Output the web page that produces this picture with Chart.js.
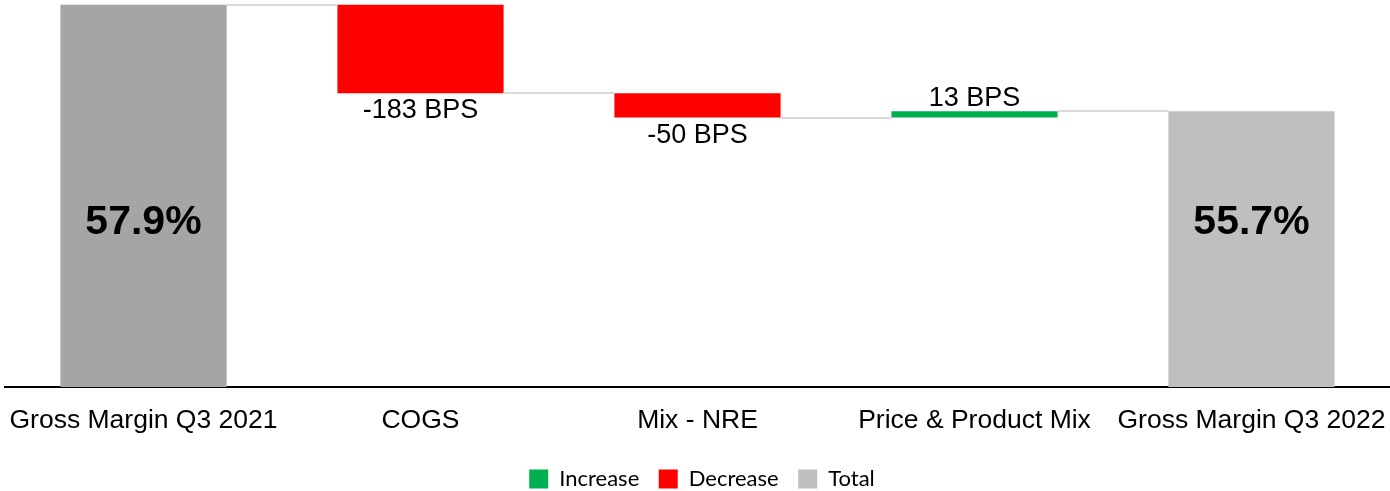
<!DOCTYPE html>
<html>
<head>
<meta charset="utf-8">
<script src="https://cdn.jsdelivr.net/npm/chart.js@4"></script>
<style>
html,body{margin:0;padding:0;background:#fff;}
#wrap{width:1390px;height:491px;position:relative;}
</style>
</head>
<body>
<div id="wrap"><canvas id="c"></canvas></div>
<script>
const categories = ['Gross Margin Q3 2021', 'COGS', 'Mix - NRE', 'Price & Product Mix', 'Gross Margin Q3 2022'];
const startTotal = 57.9;
const changes = [-1.83, -0.50, 0.13];
const endTotal = 55.7;
const valueLabels = ['57.9%', '-183 BPS', '-50 BPS', '13 BPS', '55.7%'];
const axisMin = 50;
const axisMax = 58;
const legendNames = ['Increase', 'Decrease', 'Total'];

const COLORS = { inc: '#00B050', dec: '#FF0000', start: '#A5A5A5', end: '#BFBFBF' };

// build floating ranges
const ranges = [];
const kinds = [];
ranges.push([axisMin, startTotal]); kinds.push('start');
let running = startTotal;
changes.forEach(d => {
  const next = running + d;
  ranges.push([running, next]);
  kinds.push(d >= 0 ? 'inc' : 'dec');
  running = next;
});
ranges.push([axisMin, endTotal]); kinds.push('end');

const barColors = kinds.map(k => COLORS[k]);

const waterfallPlugin = {
  id: 'waterfall',
  afterLayout(chart) {
    if (chart.legend) { chart.legend.left += 4.5; chart.legend.right += 4.5; }
  },
  afterDatasetsDraw(chart) {
    const ctx = chart.ctx;
    const meta = chart.getDatasetMeta(0);
    const y = chart.scales.y;
    const area = chart.chartArea;
    ctx.save();
    // connectors
    ctx.strokeStyle = '#D9D9D9';
    ctx.lineWidth = 2;
    for (let i = 0; i < meta.data.length - 1; i++) {
      const a = meta.data[i], b = meta.data[i + 1];
      const level = ranges[i][1];
      const py = Math.round(y.getPixelForValue(level));
      ctx.beginPath();
      ctx.moveTo(a.x + a.width / 2, py);
      ctx.lineTo(b.x - b.width / 2, py);
      ctx.stroke();
    }
    // labels
    meta.data.forEach((bar, i) => {
      const k = kinds[i];
      ctx.fillStyle = '#000';
      ctx.textAlign = 'center';
      if (k === 'start' || k === 'end') {
        ctx.font = 'bold 41px "Liberation Sans", Arial, sans-serif';
        ctx.textBaseline = 'middle';
        ctx.fillText(valueLabels[i], bar.x, area.top + (area.bottom - area.top) * 0.575);
      } else if (k === 'dec') {
        ctx.font = '27px "Liberation Sans", Arial, sans-serif';
        ctx.textBaseline = 'top';
        const bottom = y.getPixelForValue(Math.min(ranges[i][0], ranges[i][1]));
        ctx.fillText(valueLabels[i], bar.x, bottom + 4);
      } else {
        ctx.font = '27px "Liberation Sans", Arial, sans-serif';
        ctx.textBaseline = 'bottom';
        const top = y.getPixelForValue(Math.max(ranges[i][0], ranges[i][1]));
        ctx.fillText(valueLabels[i], bar.x, top + 1);
      }
    });
    ctx.restore();
  }
};

new Chart(document.getElementById('c'), {
  type: 'bar',
  data: {
    labels: categories,
    datasets: [{
      data: ranges,
      backgroundColor: barColors,
      borderWidth: 0,
      categoryPercentage: 1,
      barPercentage: 0.6
    }]
  },
  options: {
    responsive: true,
    maintainAspectRatio: false,
    animation: false,
    layout: { padding: { left: 5, right: 0, top: 0, bottom: -9 } },
    scales: {
      x: {
        grid: { display: false, drawTicks: false },
        border: { display: true, color: '#000', width: 2 },
        afterFit(scale) {
          scale.paddingLeft = 0;
          scale.paddingRight = 0;
          scale.height = 61.5;
        },
        ticks: {
          color: '#000',
          padding: 18,
          maxRotation: 0,
          autoSkip: false,
          font: { family: '"Liberation Sans", Arial, sans-serif', size: 26.5 }
        }
      },
      y: {
        display: false,
        min: axisMin,
        max: axisMax
      }
    },
    plugins: {
      tooltip: { enabled: false },
      legend: {
        position: 'bottom',
        labels: {
          boxWidth: 19,
          boxHeight: 19,
          padding: 19.5,
          color: '#595959',
          font: { family: 'Lato, "Open Sans", sans-serif', size: 22 },
          generateLabels() {
            const cols = [COLORS.inc, COLORS.dec, COLORS.end];
            return legendNames.map((n, i) => ({
              text: n, fillStyle: cols[i], strokeStyle: cols[i], lineWidth: 0, hidden: false, index: i
            }));
          }
        },
        onClick() {}
      }
    }
  },
  plugins: [waterfallPlugin]
});
</script>
</body>
</html>
